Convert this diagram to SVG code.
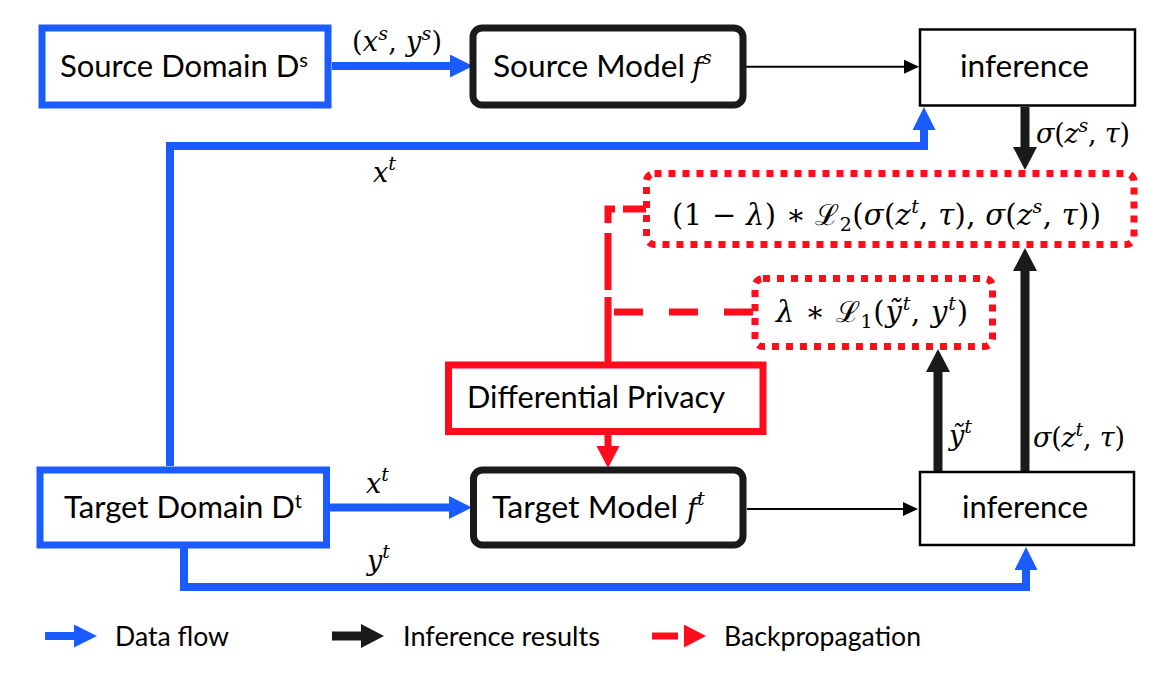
<svg xmlns="http://www.w3.org/2000/svg" width="1165" height="679" viewBox="0 0 1165 679">
<style>
.bg{fill:#fff}
.blue{stroke:#1a5cff;stroke-width:7;fill:#fff}
.model{stroke:#1a1a1a;stroke-width:7;fill:#fff}
.inf{stroke:#000;stroke-width:2.5;fill:#fff}
.dp{stroke:#ff0d1d;stroke-width:7;fill:#fff}
.dot{stroke:#ff0d1d;stroke-width:7;fill:#fff;stroke-dasharray:7 7}
.cb{stroke:#1a5cff;stroke-width:8;fill:none}
.ck{stroke:#1a1a1a;stroke-width:9;fill:none}
.ct{stroke:#000;stroke-width:2;fill:none}
.cr{stroke:#ff0d1d;stroke-width:7;fill:none}
.t{font-family:Lato,"Open Sans","Liberation Sans",sans-serif;font-size:31px;fill:#000}
.lg{font-family:Lato,"Open Sans","Liberation Sans",sans-serif;font-size:27px;fill:#000}
.m{font-family:"DejaVu Serif","Liberation Serif",serif;font-style:italic;font-size:27px;fill:#000}
.f{font-size:29px}
.u{font-style:normal}
.s{font-size:19px}
</style>
<defs>
<marker id="ah-blue" markerUnits="userSpaceOnUse" viewBox="0 0 23 23" markerWidth="23" markerHeight="23" refX="13" refY="11.5" orient="auto"><path d="M0,0 L23,11.5 L0,23 z" fill="#1a5cff"/></marker>
<marker id="ah-black" markerUnits="userSpaceOnUse" viewBox="0 0 23 24" markerWidth="23" markerHeight="24" refX="13" refY="12" orient="auto"><path d="M0,0 L23,12 L0,24 z" fill="#1a1a1a"/></marker>
<marker id="ah-thin" markerUnits="userSpaceOnUse" viewBox="0 0 15 14" markerWidth="15" markerHeight="14" refX="13" refY="7" orient="auto"><path d="M0,0 L15,7 L0,14 z" fill="#000"/></marker>
<marker id="ah-red" markerUnits="userSpaceOnUse" viewBox="0 0 22 23" markerWidth="22" markerHeight="23" refX="12" refY="11.5" orient="auto"><path d="M0,0 L22,11.5 L0,23 z" fill="#ff0d1d"/></marker>
</defs>
<rect class="bg" x="0" y="0" width="1165" height="679"/>

<g id="connectors">
<path class="cb" d="M332 66 H463" marker-end="url(#ah-blue)"/>
<path class="cb" d="M170 466 V146 H924 V117" marker-end="url(#ah-blue)"/>
<path class="cb" d="M330 507.5 H462" marker-end="url(#ah-blue)"/>
<path class="cb" d="M184 548 V587 H1026 V557" marker-end="url(#ah-blue)"/>
<path class="ct" d="M746 66.7 H917" marker-end="url(#ah-thin)"/>
<path class="ct" d="M747 509 H916" marker-end="url(#ah-thin)"/>
<path class="ck" d="M1025 107 V160" marker-end="url(#ah-black)"/>
<path class="ck" d="M938 471 V359" marker-end="url(#ah-black)"/>
<path class="ck" d="M1025 471 V258" marker-end="url(#ah-black)"/>
<path class="cr" d="M608 435 V458" marker-end="url(#ah-red)"/>
<path class="cr" d="M646 209 H608 V290" stroke-dasharray="23 8 21 10 57 30"/>
<path class="cr" d="M608 297 V363"/>
<path class="cr" d="M753 312 H608" stroke-dasharray="29 26"/>
</g>

<g id="edge-labels">
<text class="m" x="352" y="51" textLength="90" lengthAdjust="spacing"><tspan class="u">(</tspan>x<tspan class="s" dy="-11">s</tspan><tspan class="u" dy="11">, </tspan>y<tspan class="s" dy="-11">s</tspan><tspan class="u" dy="11">)</tspan></text>
<text class="m" x="373" y="182">x<tspan class="s" dy="-12">t</tspan></text>
<text class="m" x="1036" y="143" textLength="94" lengthAdjust="spacing">σ<tspan class="u">(</tspan>z<tspan class="s" dy="-11">s</tspan><tspan class="u" dy="11">, </tspan>τ<tspan class="u">)</tspan></text>
<text class="m" x="366" y="493">x<tspan class="s" dy="-12">t</tspan></text>
<text class="m" x="367" y="570">y<tspan class="s" dy="-12">t</tspan></text>
<text class="m" x="949" y="445">ỹ<tspan class="s" dy="-12">t</tspan></text>
<text class="m" x="1033" y="447" textLength="92" lengthAdjust="spacing">σ<tspan class="u">(</tspan>z<tspan class="s" dy="-11">t</tspan><tspan class="u" dy="11">, </tspan>τ<tspan class="u">)</tspan></text>
</g>

<g id="source-domain">
<rect class="blue" x="42" y="28" width="286" height="77"/>
<text class="t" x="60" y="77" textLength="248" lengthAdjust="spacingAndGlyphs">Source Domain D<tspan font-size="20" dy="-10">s</tspan></text>
</g>

<g id="source-model">
<rect class="model" x="473" y="28" width="270" height="77" rx="9"/>
<text class="t" x="493" y="77" textLength="192" lengthAdjust="spacingAndGlyphs">Source Model</text>
<text class="m" x="692" y="77" font-size="30">f<tspan class="s" dy="-13">s</tspan></text>
</g>

<g id="inference-source">
<rect class="inf" x="920" y="29.5" width="215" height="76"/>
<text class="t" x="960" y="77" textLength="129" lengthAdjust="spacingAndGlyphs">inference</text>
</g>

<g id="loss-distill">
<rect class="dot" x="646.5" y="173.5" width="487.5" height="71" rx="8"/>
<text class="m f" x="672" y="225" textLength="429" lengthAdjust="spacing"><tspan class="u">(1 − </tspan>λ<tspan class="u">) ∗ ℒ</tspan><tspan class="u s" dy="6">2</tspan><tspan class="u" dy="-6">(</tspan>σ<tspan class="u">(</tspan>z<tspan class="s" dy="-12">t</tspan><tspan class="u" dy="12">, </tspan>τ<tspan class="u">), </tspan>σ<tspan class="u">(</tspan>z<tspan class="s" dy="-12">s</tspan><tspan class="u" dy="12">, </tspan>τ<tspan class="u">))</tspan></text>
</g>

<g id="loss-label">
<rect class="dot" x="755" y="278.5" width="237.5" height="68" rx="8"/>
<text class="m f" x="776" y="322" textLength="192" lengthAdjust="spacing">λ<tspan class="u"> ∗ ℒ</tspan><tspan class="u s" dy="6">1</tspan><tspan class="u" dy="-6">(</tspan>ỹ<tspan class="s" dy="-12">t</tspan><tspan class="u" dy="12">, </tspan>y<tspan class="s" dy="-12">t</tspan><tspan class="u" dy="12">)</tspan></text>
</g>

<g id="differential-privacy">
<rect class="dp" x="448.5" y="365" width="314.5" height="66.5"/>
<text class="t" x="467" y="408" textLength="258" lengthAdjust="spacingAndGlyphs">Differential Privacy</text>
</g>

<g id="target-domain">
<rect class="blue" x="40" y="470" width="286.5" height="75"/>
<text class="t" x="64" y="518" textLength="238" lengthAdjust="spacingAndGlyphs">Target Domain D<tspan font-size="20" dy="-10">t</tspan></text>
</g>

<g id="target-model">
<rect class="model" x="473.5" y="470" width="269.5" height="75" rx="9"/>
<text class="t" x="492" y="518" textLength="186" lengthAdjust="spacingAndGlyphs">Target Model</text>
<text class="m" x="687" y="518" font-size="30">f<tspan class="s" dy="-13">t</tspan></text>
</g>

<g id="inference-target">
<rect class="inf" x="920" y="472" width="214" height="73"/>
<text class="t" x="962" y="518" textLength="126" lengthAdjust="spacingAndGlyphs">inference</text>
</g>

<g id="legend">
<path class="cb" d="M45 636 H87" marker-end="url(#ah-blue)"/>
<text class="lg" x="115" y="646" textLength="114" lengthAdjust="spacingAndGlyphs">Data flow</text>
<path class="ck" d="M332 636 H374" stroke-width="8" marker-end="url(#ah-black)"/>
<text class="lg" x="403" y="646" textLength="197" lengthAdjust="spacingAndGlyphs">Inference results</text>
<path class="cr" d="M652 636 H696" stroke-width="8" stroke-dasharray="26 40" marker-end="url(#ah-red)"/>
<text class="lg" x="724" y="646" textLength="197" lengthAdjust="spacingAndGlyphs">Backpropagation</text>
</g>
</svg>
